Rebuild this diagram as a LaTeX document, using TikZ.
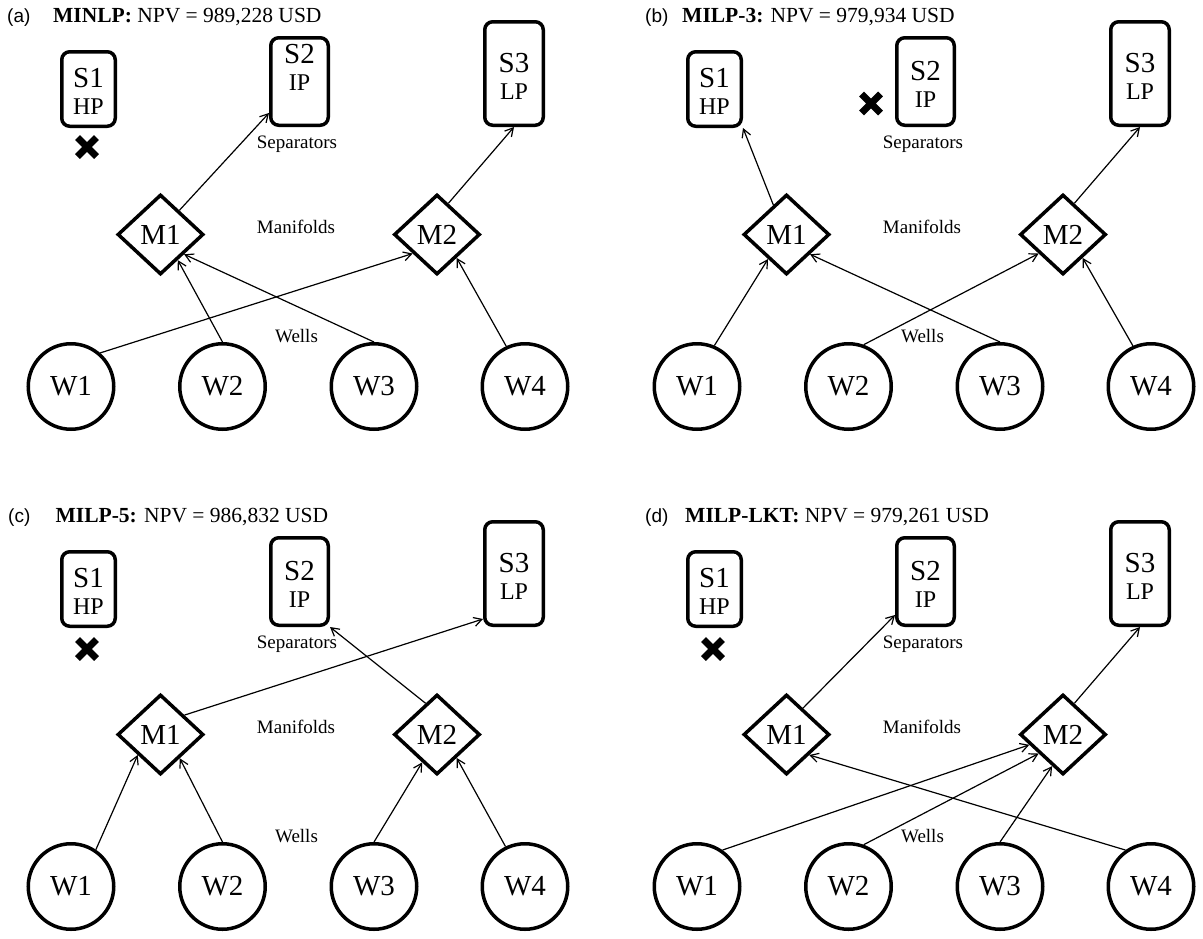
\documentclass[tikz,border=0pt]{standalone}
\usepackage{fontspec}
\setmainfont{Liberation Serif}
\newfontfamily\lsans{Liberation Sans}
\usetikzlibrary{shapes.geometric,arrows.meta,calc}

\tikzset{
  sbox/.style={rectangle, draw, line width=3.5pt, rounded corners=8pt, inner sep=0pt},
  stxt/.style={inner sep=0pt, font=\fontsize{29}{27}\selectfont, yshift=-6.7pt},
  mbox/.style={diamond, draw, line width=3.5pt, minimum width=86pt, minimum height=80pt,
               inner sep=0pt, font=\fontsize{29}{29}\selectfont},
  wbox/.style={circle, draw, line width=3.5pt, minimum size=85.5pt, inner sep=0pt,
               font=\fontsize{29}{29}\selectfont},
  tag/.style={anchor=base, inner sep=0pt, font=\fontsize{19}{19}\selectfont},
  ptag/.style={anchor=base west, inner sep=0pt, font=\lsans\fontsize{19}{19}\selectfont},
  ptitle/.style={anchor=base west, inner sep=0pt, font=\fontsize{21.5}{24}\selectfont},
  conn/.style={-{Straight Barb[length=8pt,width=9pt]}, line width=1.2pt},
  xcross/.pic={\draw[line width=7pt] (-9.5,-9.5) -- (9.5,9.5) (-9.5,9.5) -- (9.5,-9.5);}
}

% two-line separator label: name on top, pressure level below
\newcommand\stext[2]{\begin{tabular}{@{}c@{}}#1\\\fontsize{24}{27}\selectfont #2\end{tabular}}

% separators, manifolds, wells and level labels of one network
% #1 = name prefix, #2 = extra vertical shift of the S2 text
\newcommand\panelnodes[2]{%
  \node[sbox, minimum width=53.5pt, minimum height=74.5pt,
        label={[stxt]center:\stext{S1}{HP}}] (#1S1) at (88.5,89) {};
  \node[sbox, minimum width=57.5pt, minimum height=87.5pt,
        label={[stxt,yshift=#2]center:\stext{S2}{IP}}] (#1S2) at (299.5,81.5) {};
  \node[sbox, minimum width=58.5pt, minimum height=103.5pt,
        label={[stxt]center:\stext{S3}{LP}}] (#1S3) at (514,73.5) {};
  \node[mbox] (#1M1) at (160.5,234.5) {M1};
  \node[mbox] (#1M2) at (437,234.5) {M2};
  \node[wbox] (#1W1) at (71,386.5) {W1};
  \node[wbox] (#1W2) at (222.5,386.5) {W2};
  \node[wbox] (#1W3) at (374,386.5) {W3};
  \node[wbox] (#1W4) at (525,386.5) {W4};
  \node[tag] (#1sep) at (297,148) {Separators};
  \node[tag] (#1man) at (296,233) {Manifolds};
  \node[tag] (#1wel) at (296.5,342.5) {Wells};
}

\begin{document}
\begin{tikzpicture}[x=1pt, y=-1pt]
\path[fill=white, use as bounding box] (0,0) rectangle (1203,938);

% (a) MINLP
\begin{scope}
  \panelnodes{a}{17pt}
  \node[ptag] (atag) at (7,22) {(a)};
  \node[ptitle] (atitle) at (53,22) {\textbf{MINLP:} NPV = 989,228 USD};
  \pic at (87,147) {xcross};
  \draw[conn] (aM1.52) -- ([yshift=14pt]aS2.south west);
  \draw[conn] (aM2.70) -- (aS3.south);
  \draw[conn] (aW1.49) -- (aM2.218);
  \draw[conn] (aW2.north) -- (aM1.-56);
  \draw[conn] (aW3.north) -- (aM1.-40);
  \draw[conn] (aW4.115) -- (aM2.-50);
\end{scope}

% (b) MILP-3
\begin{scope}[shift={(626,0)}]
  \panelnodes{b}{0pt}
  \node[ptag] (btag) at (19,22) {(b)};
  \node[ptitle] (btitle) at (56,22) {\textbf{MILP-3:} NPV = 979,934 USD};
  \pic at (245,103.5) {xcross};
  \draw[conn] (bM1.114) -- (bS1.south east);
  \draw[conn] (bM2.70) -- (bS3.south);
  \draw[conn] (bW1.67) -- (bM1.233);
  \draw[conn] (bW2.70) -- (bM2.218);
  \draw[conn] (bW3.north) -- (bM1.-40);
  \draw[conn] (bW4.114) -- (bM2.-50);
\end{scope}

% (c) MILP-5
\begin{scope}[shift={(0,500)}]
  \panelnodes{c}{0pt}
  \node[ptag] (ctag) at (8,22) {(c)};
  \node[ptitle] (ctitle) at (55.5,22) {\textbf{MILP-5:} NPV = 986,832 USD};
  \pic at (87,149) {xcross};
  \draw[conn] (cM1.39) -- ([yshift=8pt]cS3.south west);
  \draw[conn] (cM2.110) -- (cS2.south east);
  \draw[conn] (cW1.56) -- (cM1.222);
  \draw[conn] (cW2.north) -- (cM1.-51);
  \draw[conn] (cW3.north) -- (cM2.242);
  \draw[conn] (cW4.116) -- (cM2.-50);
\end{scope}

% (d) MILP-LKT
\begin{scope}[shift={(626,500)}]
  \panelnodes{d}{0pt}
  \node[ptag] (dtag) at (19,22) {(d)};
  \node[ptitle] (dtitle) at (59,22) {\textbf{MILP-LKT:} NPV = 979,261 USD};
  \pic at (87,149) {xcross};
  \draw[conn] (dM1.58) -- ([yshift=12pt]dS2.south west);
  \draw[conn] (dM2.70) -- (dS3.south);
  \draw[conn] (dW1.55) -- (dM2.197);
  \draw[conn] (dW2.70) -- (dM2.218);
  \draw[conn] (dW3.north) -- (dM2.251);
  \draw[conn] (dW4.125) -- (dM1.-42);
\end{scope}
\end{tikzpicture}
\end{document}
